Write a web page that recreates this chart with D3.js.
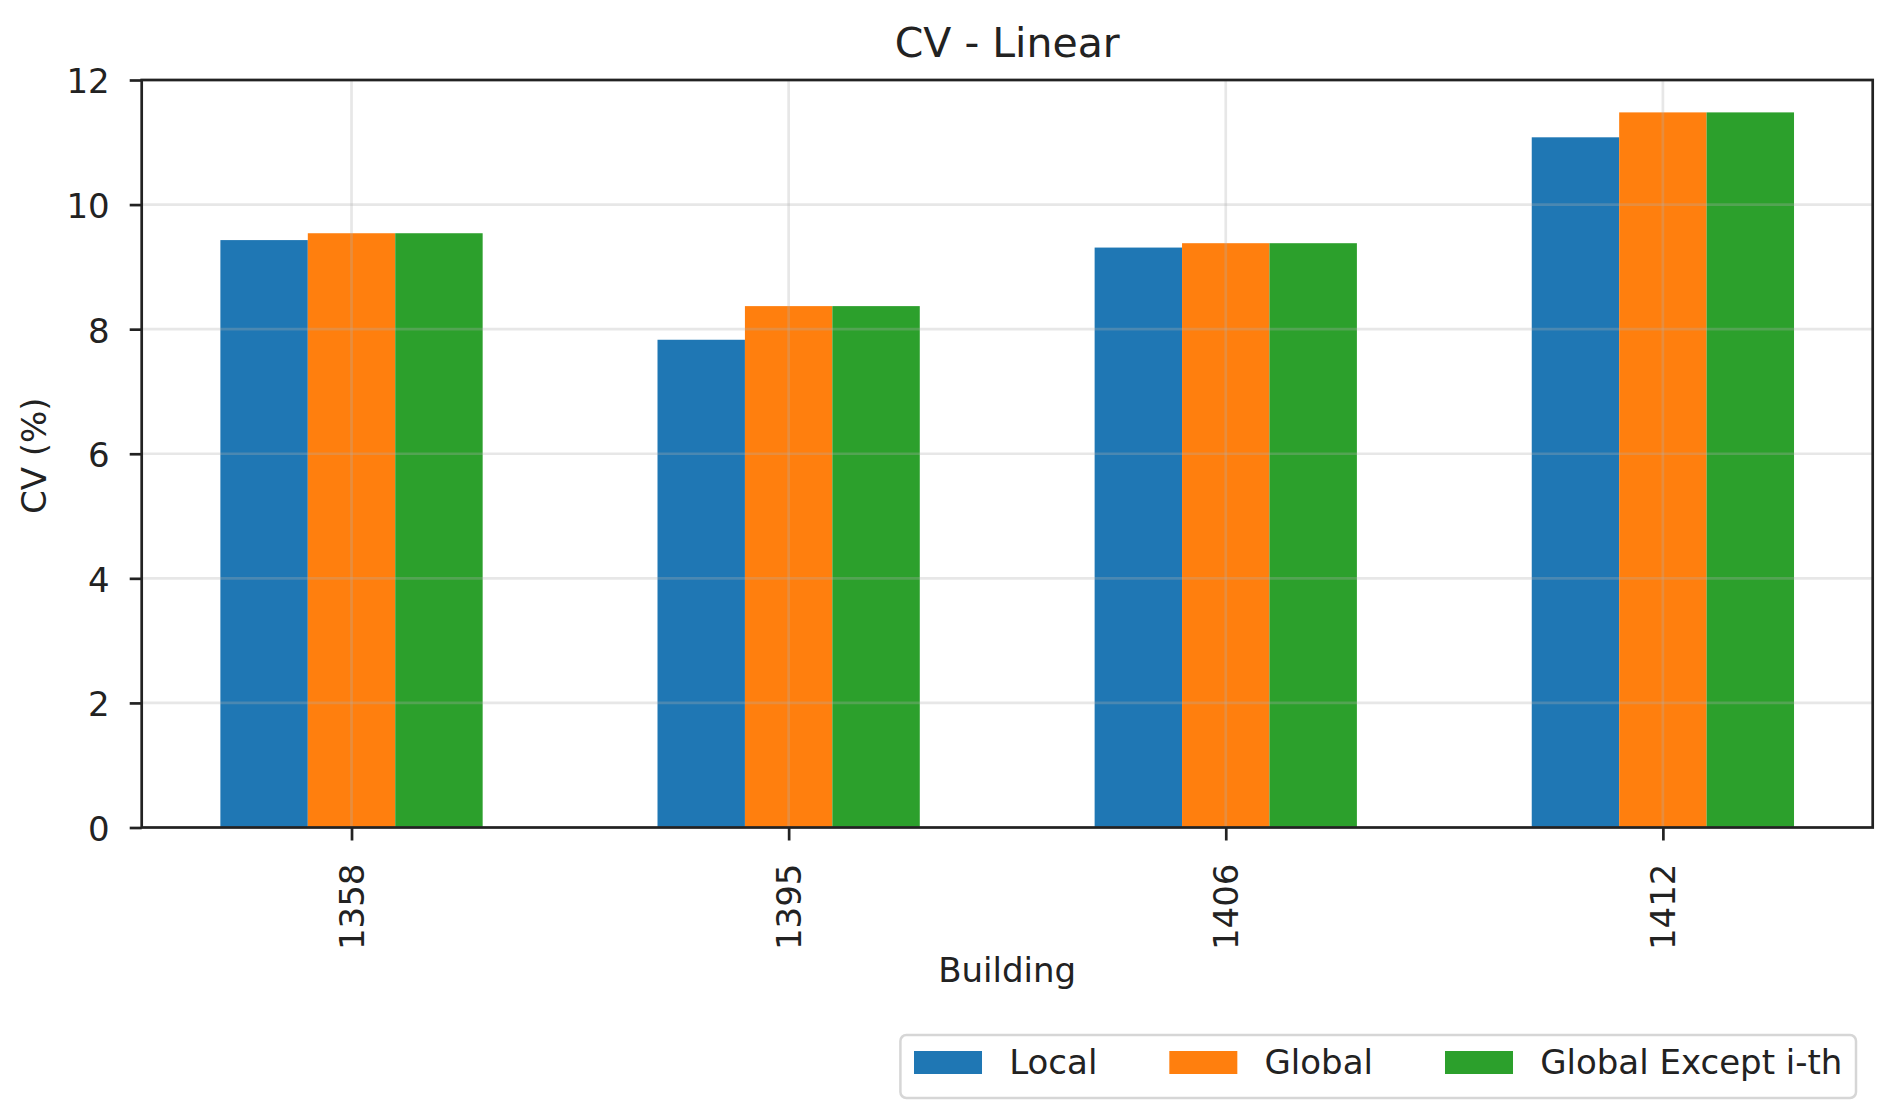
<!DOCTYPE html>
<html>
<head>
<meta charset="utf-8">
<script src="https://cdn.jsdelivr.net/npm/d3@7"></script>
<style>
  html, body { margin: 0; padding: 0; background: #fff; }
  svg { display: block; font-family: "DejaVu Sans", sans-serif; }
</style>
</head>
<body>
<svg id="chart" width="1892" height="1112"></svg>
<script>
// ---- data ----
const buildings = ["1358", "1395", "1406", "1412"];
const seriesNames = ["Local", "Global", "Global Except i-th"];
const localCV = [9.43, 7.83, 9.31, 11.08];
const globalCV = [9.54, 8.37, 9.38, 11.48];
const globalExceptCV = [9.54, 8.37, 9.38, 11.48];
const yTicks = [0, 2, 4, 6, 8, 10, 12];
const colors = ["#1f77b4", "#ff7f0e", "#2ca02c"];

const seriesValues = [localCV, globalCV, globalExceptCV];

// ---- layout ----
const svg = d3.select("#chart");
const plotLeft = 141.7, plotRight = 1872.7, plotTop = 80, plotBottom = 827.5;
const fontSize = 34;
const textColor = "#222";

const x = d3.scalePoint().domain(buildings).range([plotLeft, plotRight]).padding(0.48);
const y = d3.scaleLinear().domain([0, 12]).range([plotBottom, plotTop]);
const barW = x.step() * 0.2;

// bars
seriesValues.forEach((vals, si) => {
  svg.append("g").selectAll("rect").data(buildings).join("rect")
    .attr("x", (d) => x(d) + (si - 1.5) * barW)
    .attr("width", barW)
    .attr("y", (d, i) => y(vals[i]))
    .attr("height", (d, i) => y(0) - y(vals[i]))
    .attr("fill", colors[si]);
});

// grid (drawn above bars, translucent)
const grid = svg.append("g").attr("stroke", "#b0b0b0").attr("stroke-opacity", 0.3).attr("stroke-width", 2.7);
grid.selectAll("line.h").data(yTicks).join("line").attr("class", "h")
  .attr("x1", plotLeft).attr("x2", plotRight).attr("y1", d => y(d)).attr("y2", d => y(d));
grid.selectAll("line.v").data(buildings).join("line").attr("class", "v")
  .attr("x1", d => x(d)).attr("x2", d => x(d)).attr("y1", plotTop).attr("y2", plotBottom);

// axes
const yAxis = svg.append("g").attr("transform", `translate(${plotLeft},0)`)
  .call(d3.axisLeft(y).tickValues(yTicks).tickFormat(d3.format("d")).tickSize(12).tickPadding(20));
const xAxis = svg.append("g").attr("transform", `translate(0,${plotBottom})`)
  .call(d3.axisBottom(x).tickSize(13));
[yAxis, xAxis].forEach(a => {
  a.select(".domain").remove();
  a.selectAll(".tick line").attr("stroke", textColor).attr("stroke-width", 2.7);
  a.selectAll(".tick text").attr("fill", textColor).attr("font-size", fontSize)
    .attr("font-family", "DejaVu Sans, sans-serif");
});
yAxis.selectAll(".tick text").attr("dy", "0.38em");
xAxis.selectAll(".tick text")
  .attr("transform", "rotate(-90)")
  .attr("text-anchor", "end")
  .attr("x", -36).attr("y", 0).attr("dy", "0.35em");

// frame
svg.append("rect").attr("x", plotLeft).attr("y", plotTop).attr("width", plotRight - plotLeft).attr("height", plotBottom - plotTop)
  .attr("fill", "none").attr("stroke", textColor).attr("stroke-width", 2.7);

// title & labels
svg.append("text").attr("x", (plotLeft + plotRight) / 2).attr("y", 56.5).attr("text-anchor", "middle")
  .attr("font-size", 41).attr("fill", textColor).text("CV - Linear");
svg.append("text").attr("x", (plotLeft + plotRight) / 2).attr("y", 982).attr("text-anchor", "middle")
  .attr("font-size", fontSize).attr("fill", textColor).text("Building");
svg.append("text").attr("transform", `translate(46,${(plotTop + plotBottom) / 2 + 2}) rotate(-90)`)
  .attr("text-anchor", "middle").attr("font-size", fontSize).attr("fill", textColor).text("CV (%)");

// legend
const lg = svg.append("g");
const patchW = 2 * fontSize, patchH = 23, textPad = 0.8 * fontSize, colSpace = 72, borderPad = 0.4 * fontSize;
const boxRight = 1856, boxTop = 1035, boxBottom = 1098;
const items = lg.selectAll("g").data(seriesNames).join("g");
items.append("rect").attr("width", patchW).attr("height", patchH).attr("y", 1051).attr("fill", (d, i) => colors[i]);
items.append("text").attr("y", 1074).attr("font-size", fontSize).attr("fill", textColor).text(d => d);
let cx = 0;
const positions = [];
items.each(function () {
  const w = d3.select(this).select("text").node().getComputedTextLength();
  positions.push(cx);
  cx += patchW + textPad + w + colSpace;
});
const contentW = cx - colSpace;
const boxLeft = boxRight - contentW - 2 * borderPad;
items.each(function (d, i) {
  const g = d3.select(this);
  g.select("rect").attr("x", boxLeft + borderPad + positions[i]);
  g.select("text").attr("x", boxLeft + borderPad + positions[i] + patchW + textPad);
});
lg.insert("rect", ":first-child").attr("x", boxLeft).attr("y", boxTop).attr("width", boxRight - boxLeft)
  .attr("height", boxBottom - boxTop).attr("rx", 6).attr("fill", "#fff").attr("fill-opacity", 0.8)
  .attr("stroke", "#d6d6d6").attr("stroke-width", 2.5);
</script>
</body>
</html>
